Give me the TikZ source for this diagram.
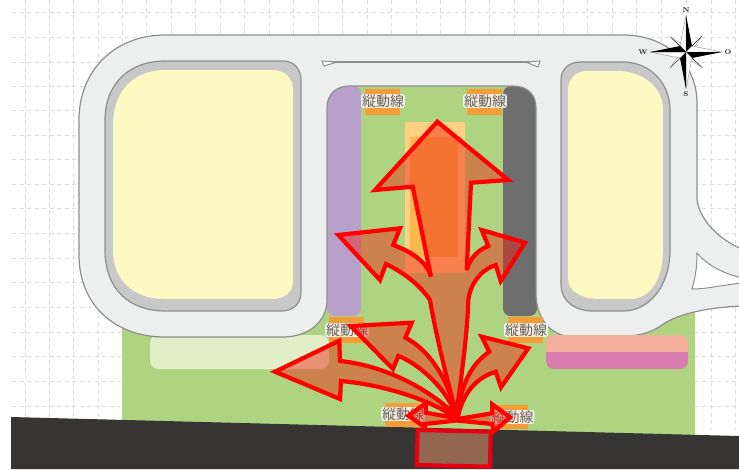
\documentclass[tikz,border=0pt]{standalone}
\usepackage{fontspec}
\newfontfamily\cjk{Noto Sans CJK JP}
\definecolor{roadfill}{HTML}{EDEFEF}
\definecolor{roadline}{HTML}{8E8E8E}
\definecolor{ring}{HTML}{C8C8C8}
\definecolor{block}{HTML}{FEF9C3}
\definecolor{lawn}{HTML}{AED482}
\definecolor{asph}{HTML}{373534}
\definecolor{lilac}{HTML}{B9A0CB}
\definecolor{slate}{HTML}{6E6E6E}
\definecolor{tag}{HTML}{F39C38}
\definecolor{pale}{HTML}{E2EEC8}
\definecolor{salmon}{HTML}{F4AE9C}
\definecolor{pinkb}{HTML}{D87CAE}
\definecolor{sandA}{HTML}{FDD083}
\definecolor{sandB}{HTML}{F8B84E}
\definecolor{hubfill}{HTML}{F0200E}
\definecolor{gateline}{HTML}{E60012}
\definecolor{gatefill}{HTML}{936650}
\definecolor{gridc}{HTML}{DCDCDC}
\tikzset{
  roadedge/.style={draw=roadline,line width=1.2pt,fill=roadfill},
  thinedge/.style={draw=roadline,line width=1pt},
  gridline/.style={draw=gridc,line width=.8pt,dash pattern=on 4pt off 3.5pt},
  taglabel/.style={font=\cjk\fontsize{14}{14}\selectfont,text=black!62,fill=white,fill opacity=.82,text opacity=1,inner xsep=.8pt,inner ysep=.4pt,rounded corners=2pt},
  compasslabel/.style={font=\fontsize{7}{7}\selectfont\bfseries,inner sep=0pt,text=black!85},
  darkhalf/.style={fill=black},
  lighthalf/.style={fill=white,draw=black!45,line width=.4pt},
}
\begin{document}
\begin{tikzpicture}[x=1pt,y=-1pt]
\useasboundingbox (0,0) rectangle (739,469);
\fill[white] (0,0) rectangle (739,469);
% grid
\foreach \x in {25,49.2,73.6,98,122.6,146.8,171.4,195.6,220,244.4,269,293.6,318,342.4,367,391.4,416,440.4,465,489.4,514,538.4,563,587.4,612,636.4,661,686,711,735.4}
  \draw[gridline] (\x,0) -- (\x,430);
\foreach \y in {12,37,62,86,110.6,135,159.6,184,208.6,233,258,282,307,332,356.4,381,406}
  \draw[gridline] (12,\y) -- (739,\y);
% lawn
\fill[lawn] (122,300) -- (695,300) -- (695,436) -- (122,421) -- cycle;
\fill[lawn] (325,80) rectangle (540,320);
% pale bed
\fill[pale,rounded corners=8pt] (150,335) rectangle (329,369);
% lilac and slate strips
\fill[lilac] (320,80) -- (353,80) -- (353,86) .. controls (358,86) and (361,89) .. (361,94) -- (361,308) .. controls (361,313) and (358,316) .. (353,316) -- (336,316) .. controls (331,316) and (327,313) .. (327,308) -- (320,300) -- cycle;
\fill[slate] (545,80) -- (512,80) -- (512,86) .. controls (507,86) and (503,89) .. (503,94) -- (503,308) .. controls (503,313) and (506,316) .. (511,316) -- (529,316) .. controls (534,316) and (537,313) .. (537,308) -- (545,300) -- cycle;
% road
\draw[roadedge] (79,120) .. controls (79,70) and (115,35) .. (165,35)
  -- (623,35) .. controls (668,35) and (697,65) .. (697,103)
  -- (697,197) .. controls (697,215) and (715,238) .. (742,249)
  -- (742,306) .. controls (715,307) and (680,312) .. (662,325)
  .. controls (652,332) and (640,337) .. (610,337)
  -- (575,337) .. controls (550,337) and (536,318) .. (536,293)
  -- (536,108) .. controls (536,94) and (527,86) .. (513,86)
  -- (350,86) .. controls (336,86) and (327,94) .. (327,108)
  -- (327,300) .. controls (327,322) and (308,337) .. (283,337)
  -- (165,337) .. controls (115,337) and (79,305) .. (79,255) -- cycle;
% junction island
\draw[thinedge,fill=white] (742,278) .. controls (725,274) and (708,266) .. (697,253) .. controls (697,268) and (695,279) .. (692,289) .. controls (708,289) and (722,285) .. (742,283);
% top notch
\draw[thinedge,line width=1.4pt] (334,62) -- (530,62);
\draw[thinedge,fill=white] (322,61) -- (337,62) -- (324,66) -- cycle;
\draw[thinedge,fill=white] (540,61) -- (526,62) -- (538,67) -- cycle;
% left block
\draw[roadedge,fill=ring] (105,120) .. controls (105,85) and (128,61) .. (165,61) -- (283,61) .. controls (294,61) and (301,69) .. (301,80) -- (301,292) .. controls (301,304) and (293,311) .. (281,311) -- (165,311) .. controls (130,311) and (105,290) .. (105,250) -- cycle;
\fill[block] (113,125) .. controls (113,92) and (133,70) .. (165,70) -- (272,70) .. controls (285,70) and (293,78) .. (293,90) -- (293,280) .. controls (293,292) and (285,299) .. (272,299) -- (165,299) .. controls (133,299) and (113,280) .. (113,250) -- cycle;
% right block
\draw[roadedge,fill=ring] (561,80) .. controls (561,69) and (569,62) .. (580,62) -- (623,62) .. controls (650,62) and (670,83) .. (670,110) -- (670,250) .. controls (670,285) and (650,311) .. (623,311) -- (593,311) .. controls (574,311) and (561,300) .. (561,285) -- cycle;
\fill[block] (568,90) .. controls (568,79) and (576,71) .. (587,71) -- (617,71) .. controls (644,71) and (663,88) .. (663,110) -- (663,250) .. controls (663,280) and (650,299) .. (630,299) -- (600,299) .. controls (582,299) and (568,292) .. (568,278) -- cycle;
% salmon bed
\begin{scope}
\clip[rounded corners=8pt] (546,335) rectangle (688,369);
\fill[salmon] (546,335) rectangle (688,352);
\fill[pinkb] (546,352) rectangle (688,369);
\end{scope}
% sand rectangles
\fill[sandA] (405,122) rectangle (465,273);
\fill[sandB] (410,137) rectangle (458,257);
% asphalt
\fill[asph] (11,417) -- (739,436) -- (739,469) -- (11,469) -- cycle;
% tags
\foreach \xa/\xb/\ya/\yb in {365/400/89/115,467/502/89/115,329/364/317/343,508/543/317/343,385/420/403/427,495/528/405/429}
  \fill[tag] (\xa,\ya) rectangle (\xb,\yb);
\node[taglabel] (t1) at (383,101) {縦動線};
\node[taglabel] (t2) at (485,101) {縦動線};
\node[taglabel] (t3) at (347,330) {縦動線};
\node[taglabel] (t4) at (526,330) {縦動線};
\node[taglabel] (t5) at (403,414) {縦動線};
\node[taglabel] (t6) at (512.5,417) {縦動線};
% entrance
\fill[gatefill] (418,431) -- (490,432) -- (490,466) -- (417,465) -- cycle;
\draw[gateline,line width=4.2pt] (417.7,430) -- (490.7,431.7) -- (490,466.7) -- (416.7,465) -- cycle;
% arrows (one outline, filled as a union)
\path[draw=red,line width=4.2pt,line join=miter,miter limit=3,fill=hubfill,fill opacity=.45,draw opacity=1]
  (456.5,420.5) -- (425,424) -- (425,427.3) -- (408.3,415.7) -- (425.7,403.3) -- (425.7,412.7) -- (456.5,418)
  .. controls (430,400) and (385,385) .. (341,381) -- (340,399) -- (275,371.7) -- (339.3,340.7) -- (340,361)
  .. controls (380,365) and (425,385) .. (456.5,416)
  .. controls (445,385) and (415,362) .. (398.3,356) -- (393,369) -- (350.7,326) -- (411.7,322.7) -- (405.3,337.7)
  .. controls (430,350) and (448,380) .. (456.5,414)
  .. controls (447,380) and (436,335) .. (430,300)
  .. controls (420,285) and (403,272) .. (386,264) -- (380,280) -- (338.3,235) -- (400,228.3) -- (393.3,245)
  .. controls (412,252) and (427,262) .. (431,276.7) -- (412.7,186.7) -- (375,190) -- (437.3,121.7) -- (508.3,180) -- (471,182.7) -- (466.7,270)
  .. controls (470,258) and (478,250) .. (488.3,246) -- (481.7,230) -- (525,242.7) -- (500.7,281) -- (495.7,265)
  .. controls (480,270) and (470,285) .. (468.3,300)
  .. controls (467,340) and (460,385) .. (456.5,414)
  .. controls (462,385) and (470,365) .. (489.3,351.7) -- (481.7,336.7) -- (528.3,348.3) -- (501,387.3) -- (495.7,371.7)
  .. controls (475,378) and (462,395) .. (457.5,419) -- (492.3,413.3) -- (492.3,404.3) -- (510,417.3) -- (493.3,431.7) -- (492.3,424) -- cycle;
% compass
\coordinate (hub) at (686,52);
\foreach \tipx/\tipy/\ax/\ay/\bx/\by in {
   670/36.7/680.5/46/686/47,
   702/36/691.5/46/691/52,
   702.7/68/691.5/58/686/57,
   670/68/680.5/58/681/52}{
  \path[lighthalf] (hub) -- (\bx,\by) -- (\tipx,\tipy) -- cycle;
  \path[darkhalf] (hub) -- (\tipx,\tipy) -- (\ax,\ay) -- cycle;
}
\foreach \tipx/\tipy/\ax/\ay/\bx/\by in {
   686/15/692/46/680/46,
   722/52/692/58/692/46,
   686/89/680/58/692/58,
   650/52/680/46/680/58}{
  \path[lighthalf] (hub) -- (\tipx,\tipy) -- (\bx,\by) -- cycle;
  \path[darkhalf] (hub) -- (\tipx,\tipy) -- (\ax,\ay) -- cycle;
}
\node[compasslabel] (cn) at (686,10.5) {N};
\node[compasslabel] (cs) at (686,94) {S};
\node[compasslabel] (cw) at (643,52) {W};
\node[compasslabel] (co) at (728,52) {O};
\end{tikzpicture}
\end{document}
